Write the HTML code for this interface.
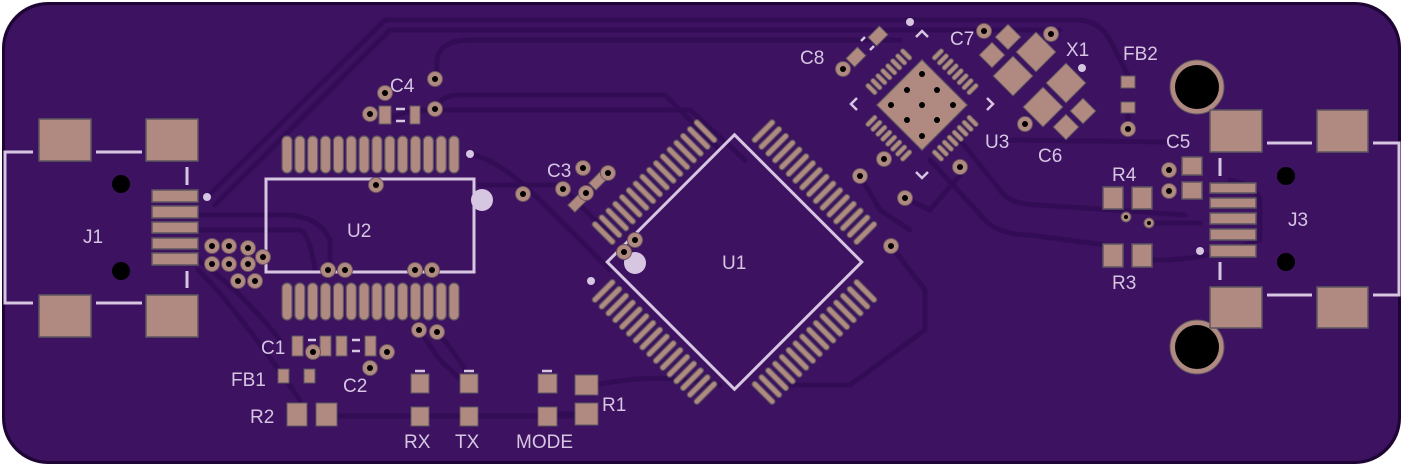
<!DOCTYPE html>
<html><head><meta charset="utf-8"><style>
html,body{margin:0;padding:0;background:#fff;}
svg{display:block}
text{font-family:"Liberation Sans",sans-serif;fill:#d6c6e2;font-size:19px;}
</style></head><body>
<svg width="1404" height="466" viewBox="0 0 1404 466" xmlns="http://www.w3.org/2000/svg">
<defs>
<g id="via"><circle r="7.5" fill="#b08a80" stroke="#6a5560" stroke-width="1"/><circle r="3" fill="#000"/></g>
<g id="qp"><rect x="-2.75" y="-128" width="5.5" height="30" rx="2.7" fill="#b08a80" stroke="#5e5660" stroke-width="1.2"/></g>
<g id="qrow">
<use href="#qp" x="-72"/><use href="#qp" x="-62.4"/><use href="#qp" x="-52.8"/><use href="#qp" x="-43.2"/>
<use href="#qp" x="-33.6"/><use href="#qp" x="-24"/><use href="#qp" x="-14.4"/><use href="#qp" x="-4.8"/>
<use href="#qp" x="4.8"/><use href="#qp" x="14.4"/><use href="#qp" x="24"/><use href="#qp" x="33.6"/>
<use href="#qp" x="43.2"/><use href="#qp" x="52.8"/><use href="#qp" x="62.4"/><use href="#qp" x="72"/>
</g>
<g id="np"><rect x="-2.3" y="-54" width="4.6" height="14" rx="2.3" fill="#b08a80" stroke="#5e5660" stroke-width="1"/></g>
<g id="nrow">
<use href="#np" x="-24.5"/><use href="#np" x="-17.5"/><use href="#np" x="-10.5"/><use href="#np" x="-3.5"/>
<use href="#np" x="3.5"/><use href="#np" x="10.5"/><use href="#np" x="17.5"/><use href="#np" x="24.5"/>
</g>
<rect id="u2p" x="0" y="0" width="10" height="37" rx="5" fill="#b08a80" stroke="#5e5660" stroke-width="1.2"/>
<g id="u2row">
<use href="#u2p" x="282"/><use href="#u2p" x="294.85"/><use href="#u2p" x="307.7"/><use href="#u2p" x="320.55"/>
<use href="#u2p" x="333.4"/><use href="#u2p" x="346.25"/><use href="#u2p" x="359.1"/><use href="#u2p" x="371.95"/>
<use href="#u2p" x="384.8"/><use href="#u2p" x="397.65"/><use href="#u2p" x="410.5"/><use href="#u2p" x="423.35"/>
<use href="#u2p" x="436.2"/><use href="#u2p" x="449"/>
</g>
</defs>

<!-- board -->
<rect x="2" y="2" width="1399" height="462" rx="46" fill="#1e0535"/>
<rect x="5" y="5" width="1393" height="456" rx="44" fill="#3d1260"/>

<!-- traces -->
<g fill="none" stroke="#330c56" stroke-width="5" stroke-linecap="round" stroke-linejoin="round">
<path d="M207,197 L385,20 L1080,20 Q1100,22 1110,40 L1128,75"/>
<path d="M215,205 L390,30 L1060,30"/>
<path d="M437,78 L437,60 Q440,40 470,40 L900,40"/>
<path d="M437,108 Q440,95 460,95 L665,95 L720,150"/>
<path d="M390,120 Q400,110 430,110 L690,110 L745,160"/>
<path d="M198,215 L290,215 Q320,218 330,240 L330,268"/>
<path d="M198,230 L300,230 Q310,235 315,270"/>
<path d="M198,260 Q240,290 280,340"/>
<path d="M198,270 Q230,300 300,400"/>
<path d="M470,154 Q500,160 540,200 L610,270"/>
<path d="M480,185 L560,185 L610,235"/>
<path d="M337,416 L575,416"/>
<path d="M556,414 L577,414"/>
<path d="M597,385 Q640,375 690,380 L720,385"/>
<path d="M437,332 Q470,370 470,385"/>
<path d="M419,330 L440,360 L470,388"/>
<path d="M960,140 L1000,190 Q1010,205 1040,205 L1185,215"/>
<path d="M930,160 L985,220 Q1000,235 1030,235 L1105,245"/>
<path d="M1000,140 L1180,142"/>
<path d="M1149,223 L1200,223"/>
<path d="M1150,260 Q1200,262 1260,240 L1260,200 Q1255,185 1230,180"/>
<path d="M891,246 L925,290 L925,330 L850,385 L790,385"/>
<path d="M860,176 L880,210 L910,230"/>
<path d="M905,198 L930,210 L960,175"/>
<path d="M1128,129 L1128,113"/>
</g>

<!-- J1 -->
<g fill="#b08a80" stroke="#5e5660" stroke-width="1.5">
<rect x="39" y="119" width="52" height="42"/><rect x="146" y="119" width="52" height="42"/>
<rect x="39" y="295" width="52" height="42"/><rect x="146" y="295" width="52" height="42"/>
<rect x="152" y="190" width="46" height="12"/><rect x="152" y="206" width="46" height="12"/>
<rect x="152" y="222" width="46" height="11"/><rect x="152" y="238" width="46" height="11"/>
<rect x="152" y="253" width="46" height="12"/>
</g>
<g stroke="#d6c6e2" stroke-width="3" fill="none">
<path d="M33,152 L5,152 L5,303 L33,303"/>
<path d="M96,152 L142,152 M96,303 L142,303 M187,167 L187,185 M187,271 L187,288"/>
</g>
<circle cx="121" cy="184" r="9" fill="#000"/><circle cx="121" cy="271" r="9" fill="#000"/>
<circle cx="207" cy="197" r="4" fill="#d6c6e2"/>
<text x="83" y="243">J1</text>

<!-- U2 -->
<use href="#u2row" y="136"/>
<use href="#u2row" y="283"/>
<rect x="266" y="179" width="208" height="93" fill="none" stroke="#d6c6e2" stroke-width="3"/>
<circle cx="482" cy="200" r="11" fill="#d6c6e2"/>
<circle cx="470" cy="154" r="4" fill="#d6c6e2"/>
<text x="347" y="237">U2</text>

<!-- C4 -->
<g fill="#b08a80" stroke="#5e5660" stroke-width="1"><rect x="379" y="106" width="12" height="18"/><rect x="410" y="106" width="10" height="18"/></g>
<path d="M396,109 h9 M396,121 h9" stroke="#d6c6e2" stroke-width="2.5"/>
<text x="390" y="92">C4</text>

<!-- C1/C2 -->
<g fill="#b08a80" stroke="#5e5660" stroke-width="1">
<rect x="292" y="336" width="11" height="20"/><rect x="320" y="336" width="11" height="20"/>
<rect x="336" y="336" width="11" height="20"/><rect x="365" y="336" width="11" height="20"/>
<rect x="278" y="369" width="11" height="14"/><rect x="304" y="369" width="11" height="14"/>
<rect x="287" y="403" width="20" height="23"/><rect x="316" y="403" width="21" height="23"/>
<rect x="411" y="374" width="18" height="19"/><rect x="411" y="407" width="18" height="19"/>
<rect x="460" y="374" width="18" height="19"/><rect x="460" y="407" width="18" height="19"/>
<rect x="538" y="374" width="19" height="19"/><rect x="538" y="407" width="19" height="19"/>
<rect x="575" y="375" width="23" height="20"/><rect x="575" y="403" width="23" height="22"/>
</g>
<path d="M308,340 h8 M308,351 h8 M352,340 h8 M352,351 h8 M415,371 h10 M464,371 h10 M542,371 h10" stroke="#d6c6e2" stroke-width="2.5"/>
<text x="261" y="354">C1</text>
<text x="231" y="386">FB1</text>
<text x="343" y="392">C2</text>
<text x="250" y="423">R2</text>
<text x="404" y="448">RX</text>
<text x="455" y="448">TX</text>
<text x="516" y="448">MODE</text>
<text x="602" y="411">R1</text>

<!-- C3 -->
<g fill="#b08a80" stroke="#5e5660" stroke-width="1">
<rect x="-5" y="-8" width="10" height="16" transform="translate(577,203) rotate(45)"/>
<rect x="-5" y="-8" width="10" height="16" transform="translate(598,181) rotate(45)"/>
</g>
<text x="547" y="177">C3</text>

<!-- U1 -->
<g transform="translate(734.5,262) rotate(45)">
<use href="#qrow"/><use href="#qrow" transform="rotate(90)"/><use href="#qrow" transform="rotate(180)"/><use href="#qrow" transform="rotate(270)"/>
<rect x="-90" y="-90" width="180" height="180" fill="none" stroke="#d6c6e2" stroke-width="3"/>
</g>
<circle cx="635" cy="263" r="11" fill="#d6c6e2"/>
<circle cx="591" cy="281" r="4" fill="#d6c6e2"/>
<text x="722" y="269">U1</text>

<!-- U3 -->
<g transform="translate(922,105) rotate(45)">
<use href="#nrow"/><use href="#nrow" transform="rotate(90)"/><use href="#nrow" transform="rotate(180)"/><use href="#nrow" transform="rotate(270)"/>
<rect x="-32" y="-32" width="64" height="64" fill="#b08a80" stroke="#5e5660" stroke-width="1.2"/>
</g>
<g fill="#000">
<circle cx="922" cy="74" r="3"/><circle cx="907" cy="90" r="3"/><circle cx="937" cy="90" r="3"/>
<circle cx="891" cy="105" r="3"/><circle cx="922" cy="105" r="3"/><circle cx="953" cy="105" r="3"/>
<circle cx="907" cy="120" r="3"/><circle cx="937" cy="120" r="3"/><circle cx="922" cy="136" r="3"/>
</g>
<path d="M857,98 L851,104 L857,110 M987,98 L993,104 L987,110 M916,37 L922,31 L928,37 M916,172 L922,178 L928,172" stroke="#d6c6e2" stroke-width="2.5" fill="none"/>
<circle cx="910" cy="22" r="4" fill="#d6c6e2"/>
<text x="985" y="148">U3</text>

<!-- C8 -->
<g fill="#b08a80" stroke="#5e5660" stroke-width="1">
<rect x="-6" y="-8" width="12" height="16" transform="translate(856,57) rotate(45)"/>
<rect x="-6" y="-8" width="12" height="16" transform="translate(878,36) rotate(45)"/>
</g>
<path d="M861,41 l4,-4 M870,50 l4,-4" stroke="#d6c6e2" stroke-width="2.5"/>
<text x="800" y="64">C8</text>

<!-- C7 / X1 / C6 -->
<g fill="#b08a80" stroke="#5e5660" stroke-width="1">
<rect x="-9" y="-9" width="18" height="18" transform="translate(1008,37) rotate(45)"/>
<rect x="-9" y="-9" width="18" height="18" transform="translate(992,55) rotate(45)"/>
<rect x="-14" y="-14" width="28" height="28" transform="translate(1036,52) rotate(45)"/>
<rect x="-14" y="-14" width="28" height="28" transform="translate(1013,76) rotate(45)"/>
<rect x="-14" y="-14" width="28" height="28" transform="translate(1066,83) rotate(45)"/>
<rect x="-14" y="-14" width="28" height="28" transform="translate(1043,107) rotate(45)"/>
<rect x="-9" y="-9" width="18" height="18" transform="translate(1083,111) rotate(45)"/>
<rect x="-9" y="-9" width="18" height="18" transform="translate(1066,127) rotate(45)"/>
</g>
<circle cx="1082" cy="68" r="4" fill="#d6c6e2"/>
<text x="950" y="45">C7</text>
<text x="1066" y="56">X1</text>
<text x="1038" y="162">C6</text>

<!-- FB2 -->
<g fill="#b08a80" stroke="#5e5660" stroke-width="1">
<rect x="1121" y="76" width="14" height="12"/><rect x="1121" y="102" width="14" height="11"/>
</g>
<text x="1123" y="60">FB2</text>

<!-- big holes -->
<circle cx="1197" cy="87" r="27" fill="#b08a80" stroke="#5e5660" stroke-width="1"/><circle cx="1197" cy="87" r="22" fill="#000"/>
<circle cx="1197" cy="347" r="27" fill="#b08a80" stroke="#5e5660" stroke-width="1"/><circle cx="1197" cy="347" r="22" fill="#000"/>

<!-- J3 -->
<g fill="#b08a80" stroke="#5e5660" stroke-width="1.5">
<rect x="1210" y="110" width="52" height="42"/><rect x="1317" y="110" width="51" height="42"/>
<rect x="1210" y="287" width="52" height="41"/><rect x="1317" y="287" width="51" height="41"/>
<rect x="1210" y="183" width="46" height="10"/><rect x="1210" y="198" width="46" height="10"/>
<rect x="1210" y="213" width="46" height="11"/><rect x="1210" y="229" width="46" height="11"/>
<rect x="1210" y="245" width="46" height="12"/>
<rect x="1182" y="157" width="20" height="18"/><rect x="1182" y="182" width="20" height="17"/>
<rect x="1103" y="187" width="20" height="22"/><rect x="1132" y="187" width="20" height="22"/>
<rect x="1103" y="244" width="20" height="23"/><rect x="1132" y="244" width="20" height="23"/>
</g>
<g stroke="#d6c6e2" stroke-width="3" fill="none">
<path d="M1267,143 L1312,143 M1373,143 L1399,143 L1399,295 L1373,295 M1267,295 L1312,295 M1220,158 L1220,176 M1220,262 L1220,280"/>
</g>
<circle cx="1286" cy="176" r="9" fill="#000"/><circle cx="1286" cy="262" r="9" fill="#000"/>
<circle cx="1200" cy="251" r="4" fill="#d6c6e2"/>
<text x="1288" y="226">J3</text>
<text x="1166" y="148">C5</text>
<text x="1112" y="181">R4</text>
<text x="1112" y="289">R3</text>

<!-- vias -->
<use href="#via" x="212" y="246"/><use href="#via" x="229" y="246"/><use href="#via" x="248" y="248"/><use href="#via" x="263" y="257"/>
<use href="#via" x="212" y="264"/><use href="#via" x="229" y="264"/><use href="#via" x="248" y="264"/><use href="#via" x="238" y="281"/><use href="#via" x="255" y="281"/>
<use href="#via" x="370" y="114"/><use href="#via" x="385" y="93"/><use href="#via" x="435" y="79"/><use href="#via" x="435" y="109"/>
<use href="#via" x="376" y="185"/><use href="#via" x="523" y="194"/>
<use href="#via" x="328" y="270"/><use href="#via" x="345" y="270"/><use href="#via" x="415" y="270"/><use href="#via" x="432" y="270"/>
<use href="#via" x="419" y="330"/><use href="#via" x="437" y="332"/>
<use href="#via" x="313" y="352"/><use href="#via" x="387" y="352"/><use href="#via" x="370" y="368"/>
<use href="#via" x="583" y="168"/><use href="#via" x="608" y="173"/><use href="#via" x="563" y="189"/><use href="#via" x="586" y="193"/>
<use href="#via" x="635" y="240"/><use href="#via" x="624" y="252"/>
<use href="#via" x="843" y="69"/><use href="#via" x="984" y="31"/><use href="#via" x="1051" y="34"/>
<use href="#via" x="884" y="159"/><use href="#via" x="960" y="167"/><use href="#via" x="860" y="176"/><use href="#via" x="905" y="198"/><use href="#via" x="891" y="246"/>
<use href="#via" x="1025" y="124"/><use href="#via" x="1128" y="129"/>
<use href="#via" x="1169" y="170"/><use href="#via" x="1169" y="191"/>
<g><circle cx="1126" cy="217" r="5" fill="#b08a80" stroke="#5e5660"/><circle cx="1126" cy="217" r="2" fill="#000"/>
<circle cx="1149" cy="223" r="5" fill="#b08a80" stroke="#5e5660"/><circle cx="1149" cy="223" r="2" fill="#000"/></g>
</svg>
</body></html>
